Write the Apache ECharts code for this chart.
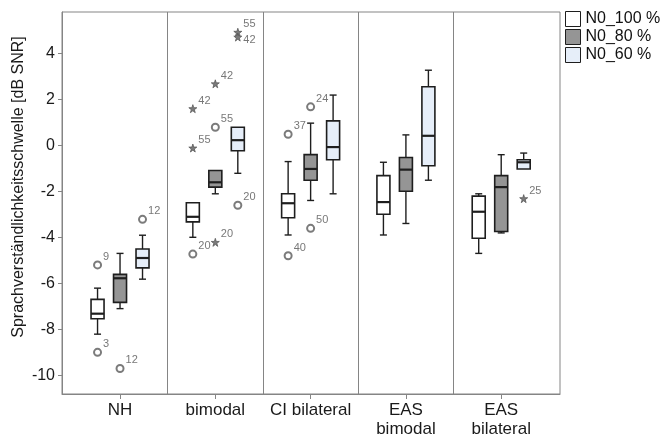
<!DOCTYPE html>
<html>
<head>
<meta charset="utf-8">
<script src="https://cdn.jsdelivr.net/npm/echarts@6/dist/echarts.min.js"></script>
<style>
  html, body { margin: 0; padding: 0; background: #fff; }
  #chart { width: 660px; height: 439px; }
</style>
</head>
<body>
<div id="chart"></div>
<script>
// groups on the x axis
const groups = ['NH', 'bimodal', 'CI bilateral', 'EAS\nbimodal', 'EAS\nbilateral'];
const seriesNames = ['N0_100 %', 'N0_80 %', 'N0_60 %'];
const yTicks = [-10, -8, -6, -4, -2, 0, 2, 4];

// box stats per group: [lower whisker, Q1, median, Q3, upper whisker]
const boxes100 = [
  [-8.20, -7.53, -7.31, -6.69, -6.20],
  [-3.99, -3.32, -3.10, -2.49, -2.49],
  [-3.89, -3.14, -2.51, -2.10, -0.70],
  [-3.89, -2.99, -2.46, -1.31, -0.73],
  [-4.69, -4.03, -2.88, -2.20, -2.10]
];
const boxes80 = [
  [-7.09, -6.82, -5.77, -5.60, -4.69],
  [-2.10, -1.81, -1.60, -1.09, -1.09],
  [-2.39, -1.51, -1.02, -0.40, 0.97],
  [-3.39, -1.99, -1.05, -0.52, 0.46],
  [-3.80, -3.74, -1.81, -1.31, -0.40]
];
const boxes60 = [
  [-5.81, -5.32, -4.89, -4.50, -3.90],
  [-1.21, -0.23, 0.23, 0.79, 0.79],
  [-2.10, -0.62, -0.07, 1.07, 2.19],
  [-1.51, -0.88, 0.42, 2.55, 3.27],
  [-1.02, -1.02, -0.73, -0.62, -0.33]
];

// outliers: [group, value, case no, kind]  kind 'o' = circle, '*' = extreme
const outliers100 = [
  [0, -5.19, '9', 'o'], [0, -8.99, '3', 'o'],
  [1, 1.60, '42', '*'], [1, -0.11, '55', '*'], [1, -4.72, '20', 'o'],
  [2, 0.49, '37', 'o'], [2, -4.79, '40', 'o']
];
const outliers80 = [
  [0, -9.69, '12', 'o'],
  [1, 2.68, '42', '*'], [1, 0.79, '55', 'o'], [1, -4.21, '20', '*'],
  [2, 1.68, '24', 'o'], [2, -3.60, '50', 'o']
];
const outliers60 = [
  [0, -3.21, '12', 'o'],
  [1, 4.92, '55', '*'], [1, 4.71, '42', '*'], [1, -2.60, '20', 'o'],
  [4, -2.31, '25', '*']
];

const fills = ['#ffffff', '#959595', '#e6eef9'];
const offsets = [-0.236, 0, 0.236];
const font = 'Liberation Sans, Arial, sans-serif';
const frameColor = '#858585';
const starPath = 'path://M50,0 L61,35 L98,35 L68,57 L79,91 L50,70 L21,91 L32,57 L2,35 L39,35 Z';

const chart = echarts.init(document.getElementById('chart'), null, { renderer: 'canvas' });

function boxRenderer(si) {
  return function (params, api) {
    const g = api.value(0) + offsets[si];
    const lo = api.coord([g, api.value(1)]);
    const q1 = api.coord([g, api.value(2)]);
    const md = api.coord([g, api.value(3)]);
    const q3 = api.coord([g, api.value(4)]);
    const hi = api.coord([g, api.value(5)]);
    const x = lo[0], hw = 6.5, cw = 3.5;
    const ls = { stroke: '#1e1e1e', lineWidth: 1.4 };
    const kids = [];
    if (Math.abs(hi[1] - q3[1]) > 0.5) {
      kids.push({ type: 'line', shape: { x1: x, y1: hi[1], x2: x, y2: q3[1] }, style: ls });
      kids.push({ type: 'line', shape: { x1: x - cw, y1: hi[1], x2: x + cw, y2: hi[1] }, style: ls });
    }
    if (Math.abs(lo[1] - q1[1]) > 0.5) {
      kids.push({ type: 'line', shape: { x1: x, y1: q1[1], x2: x, y2: lo[1] }, style: ls });
      kids.push({ type: 'line', shape: { x1: x - cw, y1: lo[1], x2: x + cw, y2: lo[1] }, style: ls });
    }
    kids.push({
      type: 'rect',
      shape: { x: x - hw, y: q3[1], width: hw * 2, height: q1[1] - q3[1] },
      style: { fill: fills[si], stroke: '#1e1e1e', lineWidth: 1.6 }
    });
    kids.push({ type: 'line', shape: { x1: x - hw, y1: md[1], x2: x + hw, y2: md[1] }, style: { stroke: '#1e1e1e', lineWidth: 2.2 } });
    return { type: 'group', children: kids };
  };
}

function outlierData(list, si) {
  return list.map(function (o) {
    const close = list.some(function (p) { return p !== o && p[0] === o[0] && p[1] > o[1] && p[1] - o[1] < 0.5; });
    return {
      value: [o[0] + offsets[si], o[1]],
      symbol: o[3] === 'o' ? 'emptyCircle' : starPath,
      symbolSize: o[3] === 'o' ? 7 : 8,
      label: { formatter: o[2], offset: close ? [0, 3] : [0, -8] }
    };
  });
}

const boxSets = [boxes100, boxes80, boxes60];
const outSets = [outliers100, outliers80, outliers60];
const series = [];
boxSets.forEach(function (set, si) {
  series.push({
    name: seriesNames[si],
    type: 'custom',
    renderItem: boxRenderer(si),
    encode: { x: 0, y: [1, 2, 3, 4, 5] },
    itemStyle: { color: fills[si], borderColor: '#1e1e1e', borderWidth: 1 },
    data: set.map(function (b, gi) { return [gi].concat(b); }),
    z: 3,
    markLine: si === 0 ? {
      silent: true,
      symbol: 'none',
      label: { show: false },
      lineStyle: { color: frameColor, type: 'solid', width: 1 },
      data: [{ xAxis: 0.5 }, { xAxis: 1.5 }, { xAxis: 2.5 }, { xAxis: 3.5 }]
    } : undefined
  });
});
outSets.forEach(function (set, si) {
  series.push({
    type: 'scatter',
    data: outlierData(set, si),
    itemStyle: { color: '#5a5a5a', borderColor: '#5a5a5a', borderWidth: 1 },
    label: { show: true, position: 'right', distance: 1, color: '#555', fontSize: 11, fontFamily: font },
    z: 4
  });
});

chart.setOption({
  animation: false,
  backgroundColor: '#fff',
  textStyle: { fontFamily: font },
  grid: { left: 62, top: 12, width: 498, height: 384, show: true, borderColor: frameColor, borderWidth: 1 },
  legend: {
    left: 565, top: 11, orient: 'vertical', icon: 'rect',
    itemWidth: 15, itemHeight: 15, itemGap: 2, padding: 0,
    itemTextGap: 2,
    textStyle: { fontSize: 16, color: '#111', fontFamily: font },
    data: seriesNames.map(function (n, i) {
      return { name: n, itemStyle: { color: fills[i], borderColor: '#1e1e1e', borderWidth: 1 } };
    })
  },
  xAxis: {
    type: 'value', min: -0.609, max: 4.617,
    axisLine: { onZero: false, lineStyle: { color: frameColor } },
    axisTick: { show: true, length: 5, customValues: [0, 1, 2, 3, 4], lineStyle: { color: frameColor } },
    axisLabel: {
      customValues: [0, 1, 2, 3, 4], color: '#1a1a1a', fontSize: 17, lineHeight: 19, margin: 7,
      formatter: function (v) { return groups[Math.round(v)]; }
    },
    splitLine: { show: false }
  },
  yAxis: {
    type: 'value', min: -10.8, max: 5.8,
    axisLine: { show: true, onZero: false, lineStyle: { color: frameColor } },
    axisTick: { show: true, length: 4, customValues: yTicks, lineStyle: { color: frameColor } },
    axisLabel: { customValues: yTicks, color: '#1a1a1a', fontSize: 16, margin: 7 },
    splitLine: { show: false }
  },
  graphic: [{
    type: 'text', x: 19, y: 187, rotation: Math.PI / 2,
    style: { text: 'Sprachverständlichkeitsschwelle [dB SNR]', fontSize: 16, fontFamily: font, fill: '#1a1a1a', align: 'center', verticalAlign: 'middle' }
  }],
  series: series
});
</script>
</body>
</html>
